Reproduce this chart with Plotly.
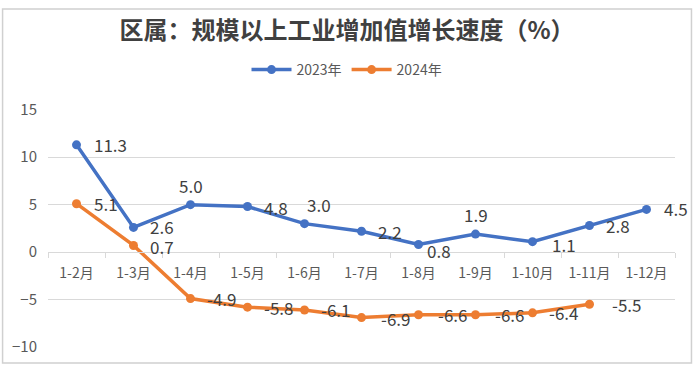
import plotly.graph_objects as go

categories = ["1-2月", "1-3月", "1-4月", "1-5月", "1-6月", "1-7月", "1-8月", "1-9月", "1-10月", "1-11月", "1-12月"]
values_2023 = [11.3, 2.6, 5.0, 4.8, 3.0, 2.2, 0.8, 1.9, 1.1, 2.8, 4.5]
values_2024 = [5.1, 0.7, -4.9, -5.8, -6.1, -6.9, -6.6, -6.6, -6.4, -5.5]

# label placement styles (x-anchor, x-shift px, y-shift px)
place_2023 = [("left", 15, 0), ("left", 14, 1), ("center", 0, 19), ("left", 14, -1), ("center", 14, 19),
              ("left", 14, 0), ("center", 20, -6), ("center", 0, 20), ("left", 17, -3), ("left", 14, 0),
              ("left", 15, 1)]
place_2024 = [("left", 15, 0), ("left", 14, -1), ("left", 14, 0), ("left", 14, 0), ("left", 14, 0),
              ("left", 17, -1), ("left", 17, 0), ("left", 17, 0), ("left", 14, 0), ("left", 20, 0)]

FONT = "Noto Sans CJK SC"
BLUE = "#4472C4"
ORANGE = "#ED7D31"
GRID = "#d9d9d9"
LABEL = "#404040"

fig = go.Figure()
fig.add_trace(go.Scatter(
    x=categories, y=values_2023, name="2023年", mode="lines+markers",
    line=dict(color=BLUE, width=3.5), marker=dict(size=9, color=BLUE),
))
fig.add_trace(go.Scatter(
    x=categories[:len(values_2024)], y=values_2024, name="2024年", mode="lines+markers",
    line=dict(color=ORANGE, width=3.5), marker=dict(size=9, color=ORANGE),
))

annotations = []
for cats, vals, places in ((categories, values_2023, place_2023), (categories, values_2024, place_2024)):
    for c, v, (xa, xs, ys) in zip(cats, vals, places):
        annotations.append(dict(x=c, y=v, xref="x", yref="y", text=f"{v:.1f}", showarrow=False,
                                xanchor=xa, yanchor="middle", xshift=xs, yshift=ys,
                                font=dict(family=FONT, size=17, color=LABEL)))

W, H = 694, 368
L, R, T, B = 47, 19, 105, 19
pw, ph = W - L - R, H - T - B

fig.update_layout(
    width=W, height=H,
    margin=dict(l=L, r=R, t=T, b=B),
    paper_bgcolor="white", plot_bgcolor="white",
    font=dict(family=FONT, color="#595959"),
    title=dict(text="<b>区属：规模以上工业增加值增长速度（%）</b>", x=0.5, xref="container",
               xanchor="center", y=1 - 31 / H, yref="container", yanchor="middle",
               font=dict(family=FONT, size=24, color="#404040")),
    legend=dict(orientation="h", x=0.5, xref="container", xanchor="center",
                y=1 - 70 / H, yref="container", yanchor="middle",
                font=dict(family=FONT, size=14, color="#595959"), itemwidth=40),
    showlegend=True,
    annotations=annotations,
    xaxis=dict(type="category", range=[-0.5, 10.5], anchor="free", position=0.4,
               showline=True, linecolor=GRID, linewidth=1, showgrid=False,
               ticks="outside", tickson="boundaries", ticklen=5, tickcolor=GRID,
               ticklabelstandoff=8,
               tickfont=dict(family=FONT, size=14, color="#595959"), zeroline=False),
    yaxis=dict(range=[-10, 15], dtick=5, showgrid=True, gridcolor=GRID, gridwidth=1,
               zeroline=False, showline=False, ticks="", ticklabelstandoff=10,
               tickfont=dict(family=FONT, size=15, color="#595959")),
    shapes=[dict(type="rect", xref="paper", yref="paper",
                 x0=(1.5 - L) / pw, x1=(W - 2.5 - L) / pw,
                 y0=(H - B - (H - 2.5)) / ph, y1=(H - B - 1.5) / ph,
                 line=dict(color="#d0d0d0", width=1.5), fillcolor="rgba(0,0,0,0)", layer="above")],
)

fig.write_html("out.html", config={"displayModeBar": False},
               post_script="document.body.style.margin='0';document.body.style.padding='0';")
